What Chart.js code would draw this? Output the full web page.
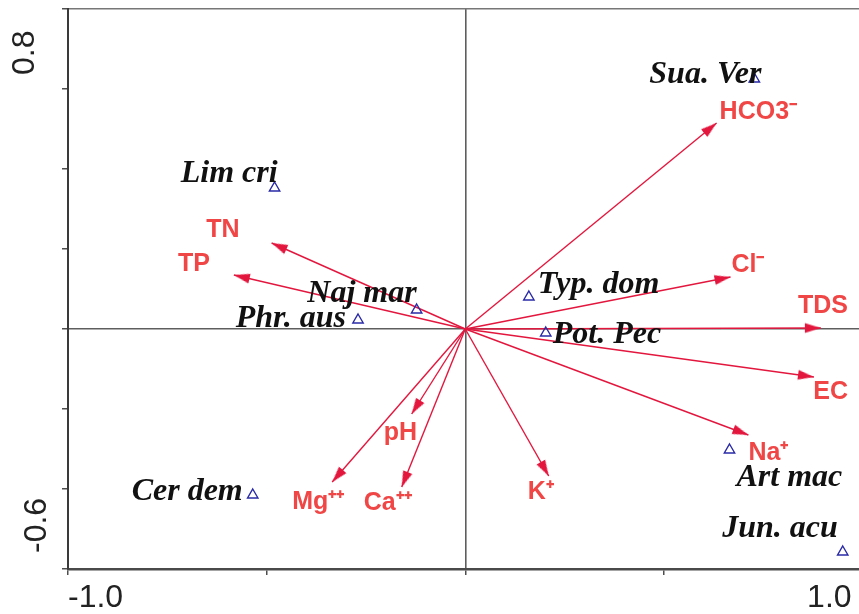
<!DOCTYPE html>
<html>
<head>
<meta charset="utf-8">
<script src="https://cdn.jsdelivr.net/npm/chart.js@4.4.1/dist/chart.umd.min.js"></script>
<style>
html,body{margin:0;padding:0;background:#fff;overflow:hidden;}
#wrap{width:870px;height:614px;}
</style>
</head>
<body>
<div id="wrap"><canvas id="c" width="870" height="614"></canvas></div>
<script>
// ---- data ----
const speciesNames = ['Sua. Ver', 'Lim cri', 'Naj mar', 'Phr. aus', 'Typ. dom', 'Pot. Pec', 'Cer dem', 'Art mac', 'Jun. acu'];
const speciesX = [0.7275, -0.48, -0.1225, -0.27, 0.16, 0.2025, -0.535, 0.665, 0.95];
const speciesY = [0.625, 0.3525, 0.0475, 0.0225, 0.08, -0.01, -0.415, -0.3025, -0.5575];

const envNames = ['HCO3\u207B', 'Cl\u207B', 'TDS', 'EC', 'Na\u207A', 'K\u207A', 'Ca\u207A\u207A', 'Mg\u207A\u207A', 'pH', 'TN', 'TP'];
const envX = [0.6325, 0.6675, 0.895, 0.8775, 0.7125, 0.21, -0.16, -0.335, -0.135, -0.4875, -0.5825];
const envY = [0.515, 0.13, 0.0025, -0.12, -0.265, -0.3675, -0.395, -0.3825, -0.2125, 0.215, 0.135];

const xTickValues = [-1.0, -0.5, 0, 0.5, 1.0];
const xTickLabels = ['-1.0', '', '', '', '1.0'];
const yTickValues = [-0.6, -0.4, -0.2, 0, 0.2, 0.4, 0.6, 0.8];
const yTickLabels = ['-0.6', '', '', '', '', '', '', '0.8'];

// ---- label layout (align, dx px, dy px) ----
const speciesLabelLayout = [
  ['right', 7, -4], ['right', 3, -14], ['right', 0, -16], ['right', -12, -1],
  ['left', 9, -12], ['left', 7, 2], ['right', -10, -3], ['left', 7, 28], ['right', -5, -23]
];
const envLabelLayout = [
  ['left', 3, -11], ['left', 1, -12], ['right', 27, -22], ['right', 34, 15], ['left', 0, 18],
  ['left', -21, 16], ['left', -38, 16], ['left', -40, 20], ['left', -28, 19], ['right', -32, -13], ['right', -24, -11]
];

// ---- styles ----
const ARROW = '#e3173e';
const ENVTXT = '#f04646';
const SPCOL = '#2a2aa8';

// arrowhead image: tip at centre, body below (points up)
const head = document.createElement('canvas');
head.width = 11; head.height = 34;
(function(){
  const g = head.getContext('2d');
  g.fillStyle = ARROW;
  g.beginPath();
  g.moveTo(5.5, 17); g.lineTo(10.4, 33); g.lineTo(0.6, 33); g.closePath();
  g.fill();
})();

const datasets = [];
envNames.forEach((n, i) => {
  datasets.push({
    label: n,
    data: [{x: 0, y: 0}, {x: envX[i], y: envY[i]}],
    showLine: true,
    borderColor: ARROW,
    borderWidth: 1.4,
    backgroundColor: ARROW,
    pointRadius: (c) => c.dataIndex === 1 ? 4 : 0,
    pointStyle: (c) => c.dataIndex === 1 ? head : 'circle',
    rotation: (c) => {
      if (c.type !== 'data' || !c.raw) return 0;
      const xs = c.chart.scales.x, ys = c.chart.scales.y;
      const dx = xs.getPixelForValue(c.raw.x) - xs.getPixelForValue(0);
      const dy = ys.getPixelForValue(c.raw.y) - ys.getPixelForValue(0);
      return Math.atan2(dx, -dy) * 180 / Math.PI;
    },
    order: 2
  });
});
datasets.push({
  label: 'species',
  data: speciesNames.map((n, i) => ({x: speciesX[i], y: speciesY[i]})),
  showLine: false,
  pointStyle: 'triangle',
  pointRadius: 6,
  pointBorderWidth: 1.4,
  pointBorderColor: SPCOL,
  pointBackgroundColor: 'rgba(0,0,0,0)',
  order: 1
});

const axisLabelPlugin = {
  id: 'axisLabelPos',
  beforeDraw(chart) {
    const xs = chart.scales.x, ys = chart.scales.y;
    xs.getLabelItems().forEach(it => {
      if (it.label === '1.0') it.options.translation[0] = xs.getPixelForValue(1.0) - 11;
    });
    ys.getLabelItems().forEach(it => {
      it.options.textAlign = 'left';
      it.options.textBaseline = 'middle';
      if (it.label === '0.8') it.options.translation = [25, ys.getPixelForValue(0.8) + 66];
      if (it.label === '-0.6') it.options.translation = [37, ys.getPixelForValue(-0.6) - 16];
    });
  }
};

const textPlugin = {
  id: 'pointLabels',
  afterDatasetsDraw(chart) {
    const {ctx, scales: {x, y}} = chart;
    ctx.save();
    ctx.textBaseline = 'middle';
    ctx.font = 'italic bold 32px "Liberation Serif", "Times New Roman", serif';
    ctx.fillStyle = '#111';
    speciesNames.forEach((n, i) => {
      const p = speciesLabelLayout[i];
      ctx.textAlign = p[0];
      ctx.fillText(n, x.getPixelForValue(speciesX[i]) + p[1], y.getPixelForValue(speciesY[i]) + p[2]);
    });
    ctx.font = 'bold 25px "Liberation Sans", Arial, sans-serif';
    ctx.fillStyle = ENVTXT;
    envNames.forEach((n, i) => {
      const p = envLabelLayout[i];
      ctx.textAlign = p[0];
      ctx.fillText(n, x.getPixelForValue(envX[i]) + p[1], y.getPixelForValue(envY[i]) + p[2]);
    });
    ctx.restore();
  }
};

new Chart(document.getElementById('c'), {
  type: 'scatter',
  data: {datasets},
  options: {
    responsive: false,
    animation: false,
    devicePixelRatio: 1,
    layout: {padding: {top: 9, right: 4, left: 0, bottom: 0}},
    plugins: {legend: {display: false}, tooltip: {enabled: false}},
    scales: {
      x: {
        type: 'linear', min: -1.0, max: 1.0,
        afterBuildTicks: s => { s.ticks = xTickValues.map(v => ({value: v})); },
        afterFit: s => { s.height = 45; s.paddingLeft = 0; s.paddingRight = 0; },
        border: {display: true, color: '#4a4a4a', width: 2.5},
        grid: {
          drawOnChartArea: true,
          color: c => (c.tick && c.tick.value === 0) ? '#5e5e5e' : 'rgba(0,0,0,0)',
          lineWidth: 1.6,
          tickColor: '#222', tickLength: 6, tickWidth: 1.2
        },
        ticks: {
          autoSkip: false, align: 'inner', padding: 4, maxRotation: 0,
          color: '#222',
          font: {family: '"Liberation Sans", Arial, sans-serif', size: 32},
          callback: (v, i) => xTickLabels[i]
        }
      },
      y: {
        type: 'linear', min: -0.6, max: 0.8,
        afterBuildTicks: s => { s.ticks = yTickValues.map(v => ({value: v})); },
        afterFit: s => { s.width = 68; s.paddingTop = 0; s.paddingBottom = 0; },
        border: {display: true, color: '#3a3a3a', width: 2},
        grid: {
          drawOnChartArea: true,
          color: c => {
            if (!c.tick) return 'rgba(0,0,0,0)';
            if (Math.abs(c.tick.value) < 1e-9) return '#5e5e5e';
            if (Math.abs(c.tick.value - 0.8) < 1e-9) return '#777';
            return 'rgba(0,0,0,0)';
          },
          lineWidth: 1.6,
          tickColor: '#222', tickLength: 6, tickWidth: 1.2
        },
        ticks: {
          autoSkip: false, minRotation: 90, maxRotation: 90, padding: 4,
          color: '#222',
          font: {family: '"Liberation Sans", Arial, sans-serif', size: 32},
          callback: (v, i) => yTickLabels[i]
        }
      }
    }
  },
  plugins: [axisLabelPlugin, textPlugin]
});
</script>
</body>
</html>
